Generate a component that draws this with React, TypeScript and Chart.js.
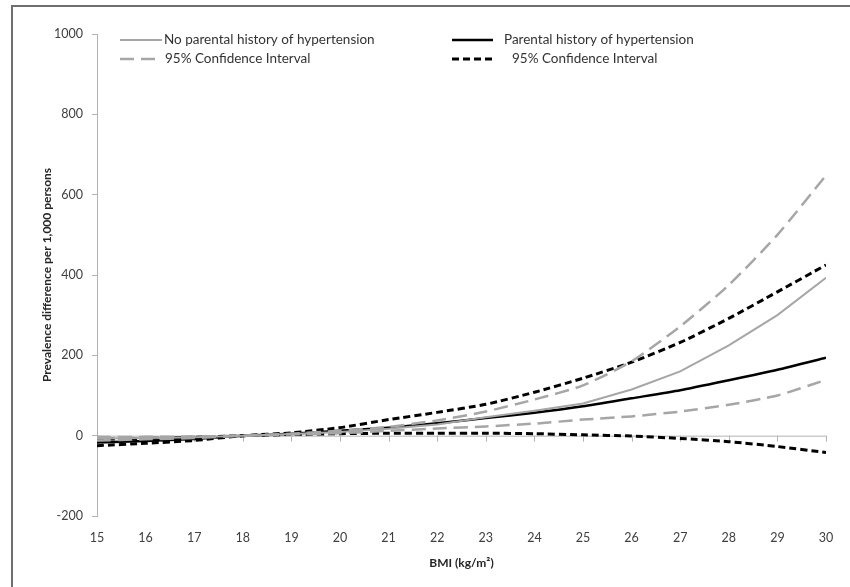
import React, { useEffect, useRef } from "react";
import { Chart, registerables } from "chart.js";

Chart.register(...registerables);

const bmi = [15, 16, 17, 18, 19, 20, 21, 22, 23, 24, 25, 26, 27, 28, 29, 30];
const noParentMid = [-7, -6, -4, 0, 4, 9, 17, 28, 46, 62, 80, 115, 160, 225, 300, 393];
const noParentHi = [-3, -3, -2, 0, 5, 12, 22, 38, 60, 90, 125, 185, 272, 375, 500, 648];
const noParentLo = [-12, -9, -6, 0, 3, 6, 12, 18, 23, 30, 40, 48, 60, 77, 100, 139];
const parentMid = [-17, -13, -8, 0, 5, 12, 20, 31, 44, 57, 73, 93, 113, 138, 164, 194];
const parentHi = [-25, -19, -12, 0, 7, 20, 40, 58, 78, 108, 143, 183, 232, 292, 358, 425];
const parentLo = [-9, -7, -4, 0, 3, 5, 6, 6, 6, 5, 2, -1, -7, -15, -27, -42];

const yTicks = [-200, 0, 200, 400, 600, 800, 1000];
const labels = [
  "No parental history of hypertension",
  "95% Confidence Interval",
  "Parental history of hypertension",
  "95% Confidence Interval",
];

const FONT = "Lato, 'Open Sans', sans-serif";
const GRAY = "#a6a6a6";
const AXIS = "#b3b3b3";

const pts = (arr: number[]) => bmi.map((x, i) => ({ x, y: arr[i] }));

const framePlugin = {
  id: "frame",
  afterDraw(chart: any) {
    const ctx = chart.ctx;
    ctx.save();
    ctx.strokeStyle = "#6e6e6e";
    ctx.lineWidth = 2;
    ctx.beginPath();
    ctx.moveTo(12, chart.height);
    ctx.lineTo(12, 6);
    ctx.lineTo(chart.width, 6);
    ctx.stroke();
    ctx.restore();
  },
};

const zeroAxisPlugin = {
  id: "zeroAxis",
  beforeDatasetsDraw(chart: any) {
    const { ctx, chartArea, scales } = chart;
    const y0 = scales.y.getPixelForValue(0);
    ctx.save();
    ctx.strokeStyle = AXIS;
    ctx.lineWidth = 1;
    ctx.beginPath();
    ctx.moveTo(chartArea.left, y0 + 0.5);
    ctx.lineTo(chartArea.right, y0 + 0.5);
    bmi.forEach((v) => {
      const x = Math.round(scales.x.getPixelForValue(v)) + 0.5;
      ctx.moveTo(x, y0);
      ctx.lineTo(x, y0 + 6);
    });
    ctx.stroke();
    ctx.restore();
  },
};

const legendPlugin = {
  id: "customLegend",
  afterDraw(chart: any) {
    const ctx = chart.ctx;
    const items = [
      { ds: 0, x1: 120, x2: 162, tx: 164, y: 40 },
      { ds: 1, x1: 120, x2: 158, tx: 165, y: 59 },
      { ds: 3, x1: 452, x2: 493, tx: 504, y: 40 },
      { ds: 4, x1: 452, x2: 493, tx: 512, y: 59 },
    ];
    ctx.save();
    items.forEach((it) => {
      const d = chart.data.datasets[it.ds];
      ctx.strokeStyle = d.borderColor;
      ctx.lineWidth = d.borderWidth;
      ctx.setLineDash(d.borderDash || []);
      ctx.beginPath();
      ctx.moveTo(it.x1, it.y);
      ctx.lineTo(it.x2, it.y);
      ctx.stroke();
      ctx.setLineDash([]);
      ctx.fillStyle = "#333333";
      ctx.font = `13.5px ${FONT}`;
      ctx.textBaseline = "middle";
      ctx.textAlign = "left";
      ctx.fillText(d.label, it.tx, it.y);
    });
    ctx.restore();
  },
};

export default function App() {
  const ref = useRef<HTMLCanvasElement | null>(null);
  useEffect(() => {
    document.body.style.margin = "0";
    const canvas = ref.current!;
    const chart = new Chart(canvas, {
      type: "line",
      data: {
        datasets: [
          {
            label: labels[0],
            data: pts(noParentMid),
            borderColor: GRAY,
            borderWidth: 2,
            pointRadius: 0,
            tension: 0,
          },
          {
            label: labels[1],
            data: pts(noParentHi),
            borderColor: GRAY,
            borderWidth: 2.5,
            borderDash: [14, 7],
            pointRadius: 0,
            tension: 0.2,
          },
          {
            label: labels[1],
            data: pts(noParentLo),
            borderColor: GRAY,
            borderWidth: 2.5,
            borderDash: [14, 7],
            pointRadius: 0,
            tension: 0.2,
          },
          {
            label: labels[2],
            data: pts(parentMid),
            borderColor: "#000000",
            borderWidth: 2.5,
            pointRadius: 0,
            tension: 0.2,
          },
          {
            label: labels[3],
            data: pts(parentHi),
            borderColor: "#000000",
            borderWidth: 3,
            borderDash: [7, 4],
            pointRadius: 0,
            tension: 0.2,
          },
          {
            label: labels[3],
            data: pts(parentLo),
            borderColor: "#000000",
            borderWidth: 3,
            borderDash: [7, 4],
            pointRadius: 0,
            tension: 0.2,
          },
        ],
      },
      options: {
        responsive: false,
        animation: false,
        layout: { padding: { left: 0, top: 34, right: 24, bottom: 0 } },
        plugins: { legend: { display: false }, tooltip: { enabled: false } },
        scales: {
          x: {
            type: "linear",
            min: 15,
            max: 30,
            afterFit: (s: any) => {
              s.height = 71;
            },
            afterBuildTicks: (s: any) => {
              s.ticks = bmi.map((v) => ({ value: v }));
            },
            grid: { display: false, drawTicks: false },
            border: { display: false },
            ticks: {
              padding: 14,
              color: "#404040",
              font: { family: FONT, size: 12.5 },
              maxRotation: 0,
              autoSkip: false,
              callback: (v: any) => String(v),
            },
            title: {
              display: true,
              text: "BMI (kg/m²)",
              color: "#262626",
              font: { family: FONT, size: 12, weight: "bold" },
              padding: { top: 0, bottom: 17 },
            },
          },
          y: {
            type: "linear",
            min: -200,
            max: 1000,
            afterFit: (s: any) => {
              s.width = 97;
            },
            afterBuildTicks: (s: any) => {
              s.ticks = yTicks.map((v) => ({ value: v }));
            },
            grid: {
              display: true,
              drawOnChartArea: false,
              drawTicks: true,
              tickLength: 5,
              color: AXIS,
            },
            border: { display: true, color: AXIS },
            ticks: {
              padding: 9,
              color: "#404040",
              font: { family: FONT, size: 12.5 },
              callback: (v: any) => String(v),
            },
            title: {
              display: true,
              text: "Prevalence difference per 1,000 persons",
              color: "#262626",
              font: { family: FONT, size: 12, weight: "bold" },
              padding: { top: 40, bottom: 0 },
            },
          },
        },
      },
      plugins: [zeroAxisPlugin, legendPlugin, framePlugin],
    } as any);
    return () => chart.destroy();
  }, []);
  return (
    <div style={{ width: 850, height: 587, background: "#ffffff" }}>
      <canvas ref={ref} width={850} height={587} style={{ display: "block" }} />
    </div>
  );
}
